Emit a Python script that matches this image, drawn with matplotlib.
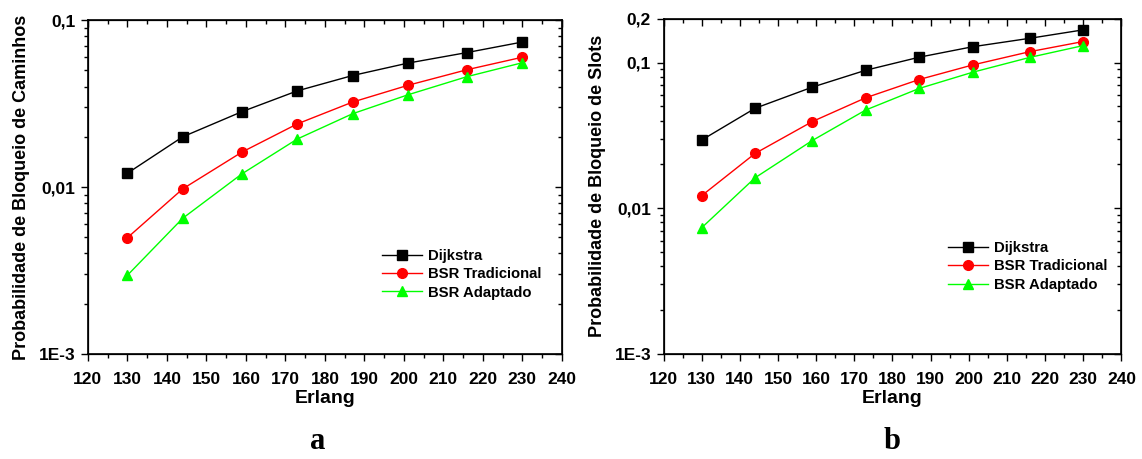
import numpy as np
import matplotlib
matplotlib.use("Agg")
import matplotlib.pyplot as plt
from matplotlib.ticker import FixedLocator, FixedFormatter, LogLocator, MultipleLocator, NullFormatter

plt.rcParams["font.family"] = "Liberation Sans"
plt.rcParams["font.weight"] = "bold"

erlang = [130, 144, 159, 173, 187, 201, 216, 230]

# blocking probability of paths
cam_dijkstra = [0.0121, 0.0200, 0.0283, 0.0377, 0.0466, 0.0553, 0.0640, 0.0740]
cam_bsr_trad = [0.00497, 0.00975, 0.0162, 0.0239, 0.0323, 0.0407, 0.0505, 0.0600]
cam_bsr_adap = [0.00296, 0.0065, 0.0120, 0.0194, 0.0275, 0.0357, 0.0459, 0.0556]

# blocking probability of slots
slo_dijkstra = [0.0294, 0.0486, 0.0679, 0.0887, 0.109, 0.1286, 0.147, 0.168]
slo_bsr_trad = [0.0122, 0.0238, 0.0394, 0.0574, 0.0766, 0.0964, 0.119, 0.1397]
slo_bsr_adap = [0.00735, 0.0162, 0.0292, 0.0473, 0.0665, 0.0859, 0.1087, 0.131]

series_names = ["Dijkstra", "BSR Tradicional", "BSR Adaptado"]
colors = ["black", "red", "#00ff00"]
markers = ["s", "o", "^"]


def style_axes(ax, ymax, yticks, ylabels):
    ax.set_yscale("log")
    ax.set_xlim(120, 240)
    ax.set_ylim(1e-3, ymax)
    ax.xaxis.set_major_locator(MultipleLocator(10))
    ax.xaxis.set_minor_locator(MultipleLocator(5))
    ax.yaxis.set_major_locator(FixedLocator(yticks))
    ax.yaxis.set_major_formatter(FixedFormatter(ylabels))
    ax.yaxis.set_minor_locator(LogLocator(base=10, subs=np.arange(2, 10)))
    ax.yaxis.set_minor_formatter(NullFormatter())
    ax.tick_params(which="major", direction="out", length=5, width=1, labelsize=12.5)
    ax.tick_params(axis="x", which="major", pad=8)
    ax.tick_params(axis="y", which="major", pad=4)
    ax.tick_params(which="minor", direction="out", length=3, width=1)
    for s in ax.spines.values():
        s.set_linewidth(1.2)

    # inward ticks on top and right
    top = ax.twiny()
    top.set_xlim(ax.get_xlim())
    top.xaxis.set_major_locator(MultipleLocator(10))
    top.xaxis.set_minor_locator(MultipleLocator(5))
    top.tick_params(which="major", direction="in", length=5, width=1, labeltop=False)
    top.tick_params(which="minor", direction="in", length=3, width=1)
    right = ax.twinx()
    right.set_yscale("log")
    right.set_ylim(ax.get_ylim())
    right.yaxis.set_major_locator(FixedLocator(yticks))
    right.yaxis.set_minor_locator(LogLocator(base=10, subs=np.arange(2, 10)))
    right.yaxis.set_minor_formatter(NullFormatter())
    right.tick_params(which="major", direction="in", length=5, width=1, labelright=False)
    right.tick_params(which="minor", direction="in", length=3, width=1)


def draw(ax, data, ylabel, ymax, yticks, ylabels, legend_anchor):
    for vals, name, c, m in zip(data, series_names, colors, markers):
        ax.plot(erlang, vals, color=c, marker=m, markersize=7, linewidth=1,
                label=name, zorder=3)
    style_axes(ax, ymax, yticks, ylabels)
    ax.set_xlabel("Erlang", fontsize=14, fontweight="bold", labelpad=2)
    ax.set_ylabel(ylabel, fontsize=13, fontweight="bold", labelpad=6)
    ax.legend(loc="upper left", bbox_to_anchor=legend_anchor, frameon=False,
              handlelength=2.7, handletextpad=0.4, labelspacing=0.3,
              borderpad=0, borderaxespad=0,
              prop={"weight": "bold", "size": 10.7})


fig = plt.figure(figsize=(11.42, 4.59), dpi=100)
ax1 = fig.add_axes([0.077, 0.229, 0.415, 0.727])
ax2 = fig.add_axes([0.581, 0.229, 0.401, 0.730])

draw(ax1, [cam_dijkstra, cam_bsr_trad, cam_bsr_adap],
     "Probabilidade de Bloqueio de Caminhos", 0.1,
     [1e-3, 1e-2, 1e-1], ["1E-3", "0,01", "0,1"], (0.62, 0.315))
draw(ax2, [slo_dijkstra, slo_bsr_trad, slo_bsr_adap],
     "Probabilidade de Bloqueio de Slots", 0.2,
     [1e-3, 1e-2, 1e-1, 2e-1], ["1E-3", "0,01", "0,1", "0,2"], (0.622, 0.337))

fig.text(0.278, 0.022, "a", family="Liberation Serif", fontweight="bold",
         fontsize=22, ha="center", va="baseline")
fig.text(0.781, 0.022, "b", family="Liberation Serif", fontweight="bold",
         fontsize=22, ha="center", va="baseline")

fig.savefig("out.png", dpi=100)
